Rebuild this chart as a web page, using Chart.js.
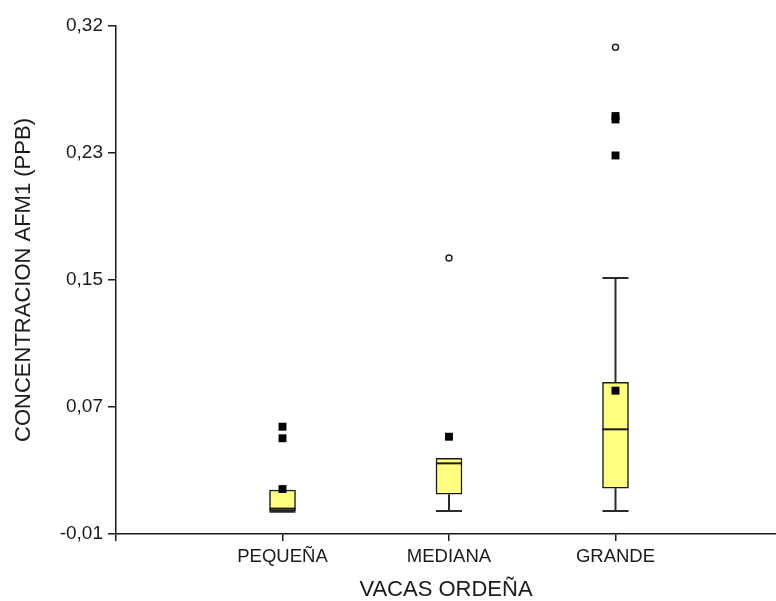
<!DOCTYPE html>
<html>
<head>
<meta charset="utf-8">
<script src="https://cdn.jsdelivr.net/npm/chart.js@4.4.1/dist/chart.umd.min.js"></script>
<style>
  html, body { margin: 0; padding: 0; background: #ffffff; }
  #wrap { width: 776px; height: 601px; }
</style>
</head>
<body>
<div id="wrap"><canvas id="c" width="776" height="601"></canvas></div>
<script>
// ---- data ----
const categories   = ['PEQUEÑA', 'MEDIANA', 'GRANDE'];
const categoryPos  = [1, 2, 3];
const q1Values     = [0.0052, 0.0158, 0.0197];
const q3Values     = [0.0186, 0.0392, 0.0885];
const medianValues = [0.0065, 0.0359, 0.0580];
const whiskerLow   = [0.0045, 0.0049, 0.0049];
const whiskerHigh  = [0.0186, 0.0392, 0.1563];
const meanValues   = [0.0192, null, 0.0831];
const outlierValues = [[0.0597, 0.0522], [0.0532], [0.2615, 0.2593, 0.2359]];
const extremeValues = [[], [0.1693], [0.3062]];
const yTickValues  = [-0.01, 0.0725, 0.155, 0.2375, 0.32];
const yTickLabels  = ['-0,01', '0,07', '0,15', '0,23', '0,32'];
const xTickLabels  = ['', 'PEQUEÑA', 'MEDIANA', 'GRANDE'];
const xTitle = 'VACAS ORDEÑA';
const yTitle = 'CONCENTRACION AFM1 (PPB)';

// ---- derived datasets ----
const boxData = categoryPos.map((x, i) => ({ x: x, y: [q1Values[i], q3Values[i]] }));
const meanData = [];
categoryPos.forEach((x, i) => { if (meanValues[i] !== null) meanData.push({ x: x, y: meanValues[i] }); });
const outlierData = [];
categoryPos.forEach((x, i) => outlierValues[i].forEach(v => outlierData.push({ x: x, y: v })));
const extremeData = [];
categoryPos.forEach((x, i) => extremeValues[i].forEach(v => extremeData.push({ x: x, y: v })));

const FONT = "'Liberation Sans', Arial, sans-serif";
const INK = '#1a1a1a';
const BOX_W = 26;

const boxPlugin = {
  id: 'boxParts',
  beforeDatasetsDraw(chart) {
    const ctx = chart.ctx, xs = chart.scales.x, ys = chart.scales.y;
    ctx.save();
    ctx.strokeStyle = '#2a2a2a';
    ctx.lineWidth = 2;
    categoryPos.forEach((c, i) => {
      const px = xs.getPixelForValue(c);
      const lo = ys.getPixelForValue(whiskerLow[i]);
      const hi = ys.getPixelForValue(whiskerHigh[i]);
      const b1 = ys.getPixelForValue(q1Values[i]);
      const b3 = ys.getPixelForValue(q3Values[i]);
      ctx.beginPath();
      if (lo - b1 > 0.5) {
        ctx.moveTo(px, b1); ctx.lineTo(px, lo);
        ctx.moveTo(px - BOX_W / 2, lo); ctx.lineTo(px + BOX_W / 2, lo);
      }
      if (b3 - hi > 0.5) {
        ctx.moveTo(px, b3); ctx.lineTo(px, hi);
        ctx.moveTo(px - BOX_W / 2, hi); ctx.lineTo(px + BOX_W / 2, hi);
      }
      ctx.stroke();
    });
    ctx.restore();
  },
  afterDatasetDraw(chart, args) {
    if (args.index !== 0) return;
    const ctx = chart.ctx, xs = chart.scales.x, ys = chart.scales.y;
    ctx.save();
    ctx.strokeStyle = INK;
    ctx.lineWidth = 2;
    categoryPos.forEach((c, i) => {
      const px = xs.getPixelForValue(c);
      const m = ys.getPixelForValue(medianValues[i]);
      ctx.beginPath();
      ctx.moveTo(px - BOX_W / 2, m); ctx.lineTo(px + BOX_W / 2, m);
      ctx.stroke();
    });
    ctx.restore();
  }
};

new Chart(document.getElementById('c'), {
  type: 'bar',
  data: {
    datasets: [
      {
        type: 'bar', data: boxData, backgroundColor: '#ffff80', borderColor: INK,
        borderWidth: 1.5, borderSkipped: false, barThickness: BOX_W, order: 3
      },
      {
        type: 'scatter', data: meanData, pointStyle: 'rect', pointRadius: 5.6,
        backgroundColor: '#000', borderColor: '#000', borderWidth: 0, order: 2
      },
      {
        type: 'scatter', data: outlierData, pointStyle: 'rect', pointRadius: 5.6,
        backgroundColor: '#000', borderColor: '#000', borderWidth: 0, order: 2
      },
      {
        type: 'scatter', data: extremeData, pointStyle: 'circle', pointRadius: 3,
        backgroundColor: '#fff', borderColor: '#222', borderWidth: 1.5, order: 1
      }
    ]
  },
  plugins: [boxPlugin],
  options: {
    responsive: false,
    animation: false,
    events: [],
    layout: { autoPadding: false, padding: { top: 26, right: 0, bottom: 0, left: 0 } },
    plugins: { legend: { display: false }, tooltip: { enabled: false } },
    scales: {
      x: {
        type: 'linear', min: 0, max: 3.964, offset: false,
        afterFit(s) { s.height = 67; s.paddingLeft = 0; s.paddingRight = 0; },
        afterBuildTicks(s) { s.ticks = [0, 1, 2, 3].map(v => ({ value: v })); },
        ticks: {
          color: INK, font: { family: FONT, size: 18.5 }, padding: 5, maxRotation: 0, autoSkip: false,
          callback: (v) => xTickLabels[v] !== undefined ? xTickLabels[v] : ''
        },
        grid: { display: true, offset: false, drawOnChartArea: false, drawTicks: true, tickLength: 7, color: INK, lineWidth: 1.5 },
        border: { display: true, color: INK, width: 1.5 },
        title: { display: true, text: xTitle, color: INK, font: { family: FONT, size: 22, lineHeight: 1 }, padding: { top: 0, bottom: 0 } }
      },
      y: {
        type: 'linear', min: -0.01, max: 0.32,
        afterFit(s) { s.width = 116; },
        afterBuildTicks(s) { s.ticks = yTickValues.map(v => ({ value: v })); },
        ticks: {
          color: INK, font: { family: FONT, size: 19 }, padding: 5,
          callback: (v, i) => yTickLabels[i]
        },
        grid: { display: true, drawOnChartArea: false, drawTicks: true, tickLength: 8, color: INK, lineWidth: 1.5 },
        border: { display: true, color: INK, width: 1.5 },
        title: { display: true, text: yTitle, color: INK, font: { family: FONT, size: 22, lineHeight: 1 }, padding: { top: 13, bottom: 0 } }
      }
    }
  }
});
</script>
</body>
</html>
